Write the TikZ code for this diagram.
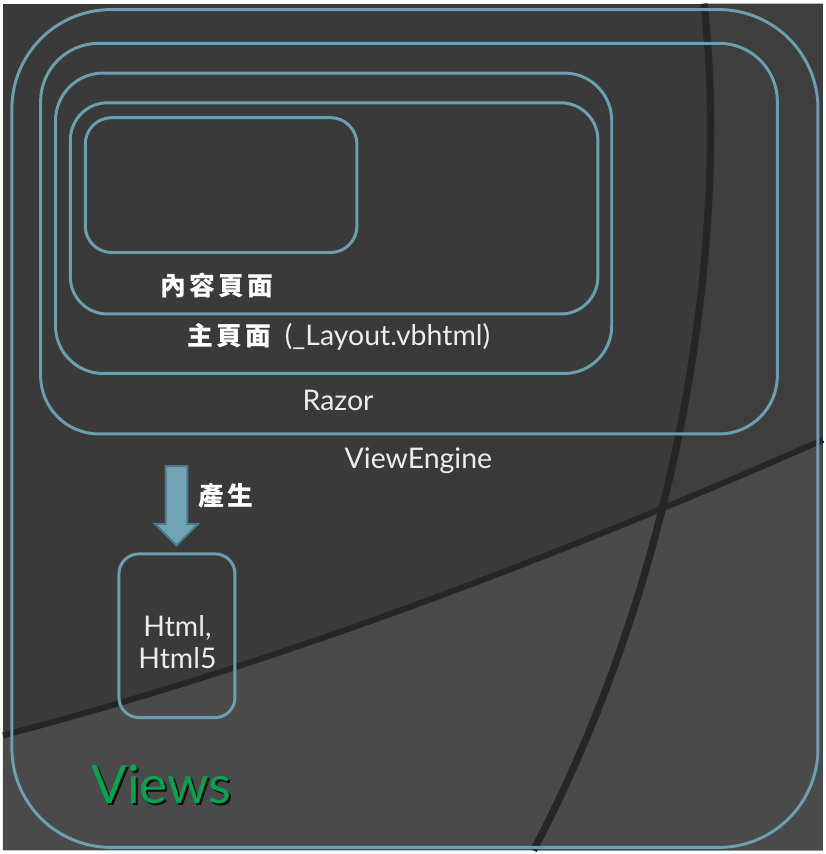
\documentclass[tikz,border=0pt]{standalone}
\usepackage{fontspec}
\setmainfont{Lato}
\newfontfamily\cjk{Noto Sans CJK TC}
\usetikzlibrary{fit,shapes.arrows}

\definecolor{bgdark}{RGB}{58,58,58}
\definecolor{bgright}{RGB}{62,62,62}
\definecolor{bglow}{RGB}{74,74,74}
\definecolor{bgband}{RGB}{38,38,38}
\definecolor{framecol}{RGB}{108,158,174}
\definecolor{arrowfill}{RGB}{112,164,180}
\definecolor{arrowedge}{RGB}{76,122,138}
\definecolor{txtcol}{RGB}{236,236,236}
\definecolor{viewsgreen}{RGB}{0,166,80}

\tikzset{
  roundbox/.style={draw=framecol, line width=2.25pt, rounded corners=#1, inner sep=0pt},
  lbl/.style={text=txtcol, inner sep=0pt, font=\fontsize{21.5}{25}\selectfont},
  cjklbl/.style={text=white, inner sep=0pt, font=\fontsize{19.5}{23}\selectfont\cjk\bfseries},
}
\newcommand{\cgap}{\hspace{2.5pt}}

\begin{document}
\begin{tikzpicture}[x=0.75pt,y=0.75pt,yscale=-1,xscale=1]
%background
\fill [bgdark] (0,0) rectangle (827,854);
\fill [bgright] (707,0) .. controls (732,220) and (690,560) .. (535,854) -- (827,854) -- (827,0) -- cycle;
\fill [bglow] (0,738) .. controls (300,660) and (600,540) .. (827,440) -- (827,854) -- (0,854) -- cycle;
\draw [bgband, line width=5.5pt] (707,0) .. controls (732,220) and (690,560) .. (535,854);
\draw [bgband, line width=4.5pt] (0,738) .. controls (300,660) and (600,540) .. (827,440);

%Shape: Rounded Rect
\node [roundbox=75pt, fit={(9,6) (822,851)}] (views) {};
\node [roundbox=44pt, fit={(38,40) (781,434)}] (engine) {};
\node [roundbox=36pt, fit={(53,70) (614,373)}] (razor) {};
\node [roundbox=28pt, fit={(68,100) (600,313)}] (master) {};
\node [roundbox=20pt, fit={(83,115) (357,251)}] (content) {};
\node [roundbox=15pt, fit={(117,555) (234,720)}] (html) {};

%Block arrow
\node [single arrow, draw=arrowedge, fill=arrowfill, line width=1.5pt, rotate=-90,
       minimum height=60pt, inner sep=7.5pt, single arrow head extend=8pt,
       single arrow tip angle=90] (gen) at (175,501) {};

% Text Node
\node [cjklbl] (contentlbl) at (216,284) {內\cgap 容\cgap 頁\cgap 面};
% Text Node
\node [anchor=west, inner sep=0pt] (masterlbl) at (186,336) {{\fontsize{19.5}{23}\selectfont\cjk\bfseries\color{white}主\cgap 頁\cgap 面\hspace{10pt}}{\fontsize{21.5}{25}\selectfont\color{txtcol}(\_Layout.vbhtml)}};
% Text Node
\node [lbl] (razorlbl) at (338,400) {Razor};
% Text Node
\node [lbl] (enginelbl) at (419,461) {ViewEngine};
% Text Node
\node [cjklbl] (genlbl) at (225,496) {產\cgap 生};
% Text Node
\node [lbl, align=center, font=\fontsize{21.5}{24.75}\selectfont] (htmllbl) at (176,644) {Html,\\Html5};
% Text Node
\node [inner sep=0pt, text=black, font=\fontsize{40}{44}\selectfont] (viewsshadow) at (162,789) {Views};
\node [inner sep=0pt, text=viewsgreen, font=\fontsize{40}{44}\selectfont] (viewslbl) at (160,787) {Views};

\end{tikzpicture}
\end{document}
